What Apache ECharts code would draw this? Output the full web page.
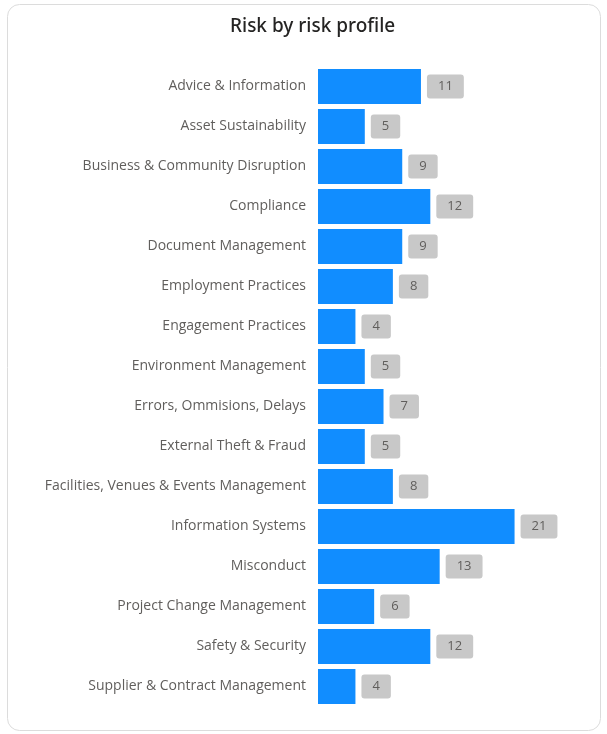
<!DOCTYPE html>
<html>
<head>
<meta charset="utf-8">
<script src="https://cdn.jsdelivr.net/npm/echarts@6/dist/echarts.min.js"></script>
<style>
  html, body { margin: 0; padding: 0; background: #ffffff; }
  #chart { width: 607px; height: 734px; }
</style>
</head>
<body>
<div id="chart"></div>
<script>
// Risk counts per risk profile
const categories = [
  'Advice & Information',
  'Asset Sustainability',
  'Business & Community Disruption',
  'Compliance',
  'Document Management',
  'Employment Practices',
  'Engagement Practices',
  'Environment Management',
  'Errors, Ommisions, Delays',
  'External Theft & Fraud',
  'Facilities, Venues & Events Management',
  'Information Systems',
  'Misconduct',
  'Project Change Management',
  'Safety & Security',
  'Supplier & Contract Management'
];
const riskCounts = [11, 5, 9, 12, 9, 8, 4, 5, 7, 5, 8, 21, 13, 6, 12, 4];

const chart = echarts.init(document.getElementById('chart'), null, { renderer: 'canvas' });

chart.setOption({
  animation: false,
  backgroundColor: '#ffffff',
  graphic: [{
    type: 'rect',
    left: 7,
    top: 4,
    shape: { width: 593, height: 726, r: 12 },
    style: { fill: '#ffffff', stroke: '#dcdcdc', lineWidth: 1 },
    z: -10
  }],
  title: {
    text: 'Risk by risk profile',
    left: 225,
    top: 12,
    textStyle: {
      fontFamily: 'Noto Sans',
      fontSize: 19,
      fontWeight: 500,
      color: '#252423'
    }
  },
  grid: {
    left: 318,
    right: 55,
    top: 66.5,
    bottom: 27.5,
    containLabel: false
  },
  xAxis: {
    type: 'value',
    min: 0,
    max: 25,
    show: false
  },
  yAxis: {
    type: 'category',
    data: categories,
    inverse: true,
    axisLine: { show: false },
    axisTick: { show: false },
    axisLabel: {
      margin: 12,
      fontFamily: 'Open Sans',
      fontSize: 14,
      color: '#605e5c',
      padding: [3, 0, 0, 0]
    }
  },
  series: [{
    type: 'bar',
    data: riskCounts,
    barWidth: 35,
    itemStyle: { color: '#118dff' },
    label: {
      show: true,
      position: 'right',
      distance: 6,
      fontFamily: 'Open Sans',
      fontSize: 13,
      color: '#605e5c',
      backgroundColor: '#c8c8c8',
      borderRadius: 3,
      padding: [6, 11, 5, 11]
    }
  }]
});
</script>
</body>
</html>
